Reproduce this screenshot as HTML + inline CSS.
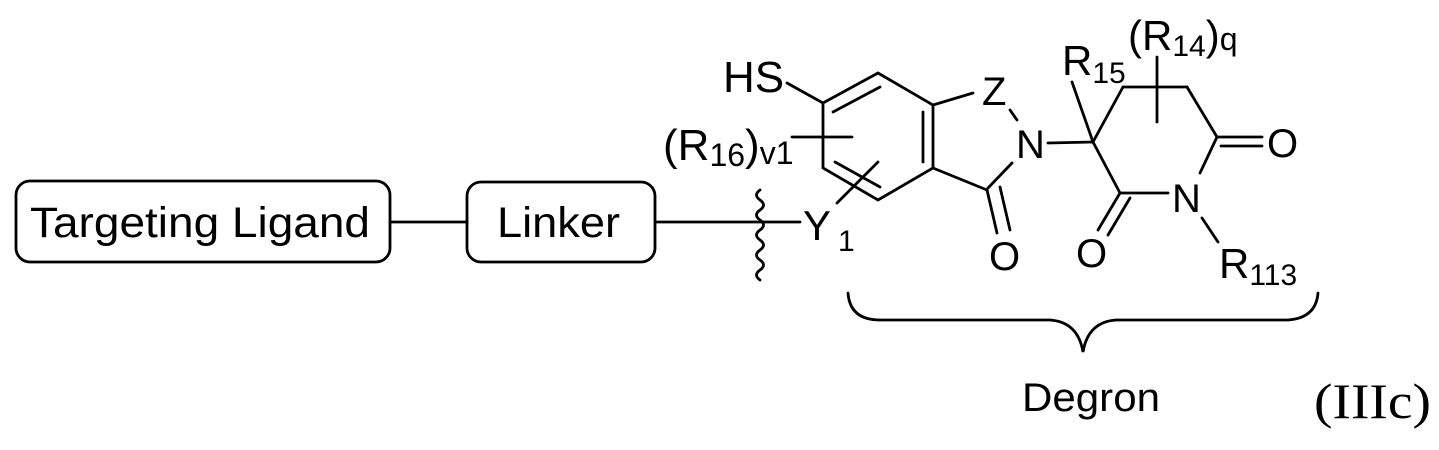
<!DOCTYPE html>
<html><head><meta charset="utf-8"><style>
html,body{margin:0;padding:0;background:#fff;}
svg{display:block;}
text{font-family:"Liberation Sans",Arial,sans-serif;fill:#000;}
</style></head><body>
<svg width="1439" height="450" viewBox="0 0 1439 450" xmlns="http://www.w3.org/2000/svg">
<g fill="none" stroke="#000" stroke-width="2.8" stroke-linecap="round">
<rect x="16" y="181" width="374" height="81" rx="14"/>
<rect x="467" y="182" width="188" height="80" rx="14"/>
<line x1="390" y1="222" x2="467" y2="222"/>
<line x1="655" y1="222" x2="800" y2="222"/>
<path d="M760 190 q-7 5 0 10 q7 5 0 10 q-7 5 0 10 q7 5 0 10 q-7 5 0 10 q7 5 0 10 q-7 5 0 10 q7 5 0 10 q-7 5 0 10"/>
<polygon points="878,73 933,105 933,168 878,200 823,168 823,103"/>
<line x1="833" y1="112" x2="880" y2="87"/>
<line x1="923" y1="112" x2="923" y2="162"/>
<line x1="835" y1="162" x2="880" y2="187"/>
<line x1="787" y1="83" x2="823" y2="103"/>
<line x1="792" y1="137" x2="852" y2="137"/>
<line x1="837" y1="203" x2="878" y2="162"/>
<line x1="933" y1="105" x2="973" y2="93"/>
<line x1="1010" y1="110" x2="1017" y2="120"/>
<line x1="933" y1="168" x2="987" y2="190"/>
<line x1="1012" y1="163" x2="988" y2="188"/>
<line x1="987" y1="190" x2="997" y2="233"/>
<line x1="1000" y1="187" x2="1010" y2="230"/>
<line x1="1048" y1="143" x2="1093" y2="142"/>
<line x1="1072" y1="82" x2="1093" y2="142"/>
<line x1="1093" y1="142" x2="1123" y2="87"/>
<line x1="1123" y1="87" x2="1187" y2="87"/>
<line x1="1157" y1="57" x2="1157" y2="122"/>
<line x1="1187" y1="87" x2="1217" y2="137"/>
<line x1="1217" y1="137" x2="1262" y2="137"/>
<line x1="1221" y1="146" x2="1262" y2="146"/>
<line x1="1217" y1="137" x2="1200" y2="173"/>
<line x1="1093" y1="142" x2="1120" y2="193"/>
<line x1="1120" y1="193" x2="1168" y2="193"/>
<line x1="1120" y1="193" x2="1098" y2="230"/>
<line x1="1130" y1="198" x2="1108" y2="235"/>
<line x1="1202" y1="218" x2="1218" y2="242"/>
<path d="M848 293 Q850 320 880 320 L1050 320 Q1078 322 1083 352 Q1088 322 1116 320 L1288 320 Q1316 318 1318 293"/>
</g>
<text x="30" y="237" font-size="43" textLength="340" lengthAdjust="spacingAndGlyphs">Targeting Ligand</text>
<text x="497" y="237" font-size="43" textLength="123" lengthAdjust="spacingAndGlyphs">Linker</text>
<text x="723" y="92" font-size="44">HS</text>
<text x="663" y="160" font-size="44">(R<tspan font-size="32" dy="6">16</tspan><tspan dy="-6">)</tspan><tspan font-size="32" dy="4">v1</tspan></text>
<text x="803" y="240" font-size="42">Y</text>
<text x="838" y="251" font-size="30">1</text>
<text x="982" y="105" font-size="40">Z</text>
<text x="1016" y="158" font-size="40">N</text>
<text x="989" y="270" font-size="40">O</text>
<text x="1062" y="75" font-size="42">R<tspan font-size="30" dy="8">15</tspan></text>
<text x="1128" y="50" font-size="42">(R<tspan font-size="30" dy="6">14</tspan><tspan dy="-6">)</tspan><tspan font-size="32">q</tspan></text>
<text x="1267" y="157" font-size="40">O</text>
<text x="1172" y="212" font-size="40">N</text>
<text x="1076" y="267" font-size="40">O</text>
<text x="1219" y="278" font-size="42">R<tspan font-size="30" dy="7">113</tspan></text>
<text x="1022" y="411" font-size="40" textLength="138" lengthAdjust="spacingAndGlyphs">Degron</text>
<text x="1314" y="418" font-size="50" textLength="117" lengthAdjust="spacingAndGlyphs" style="font-family:'Liberation Serif',serif">(IIIc)</text>
</svg>
</body></html>
